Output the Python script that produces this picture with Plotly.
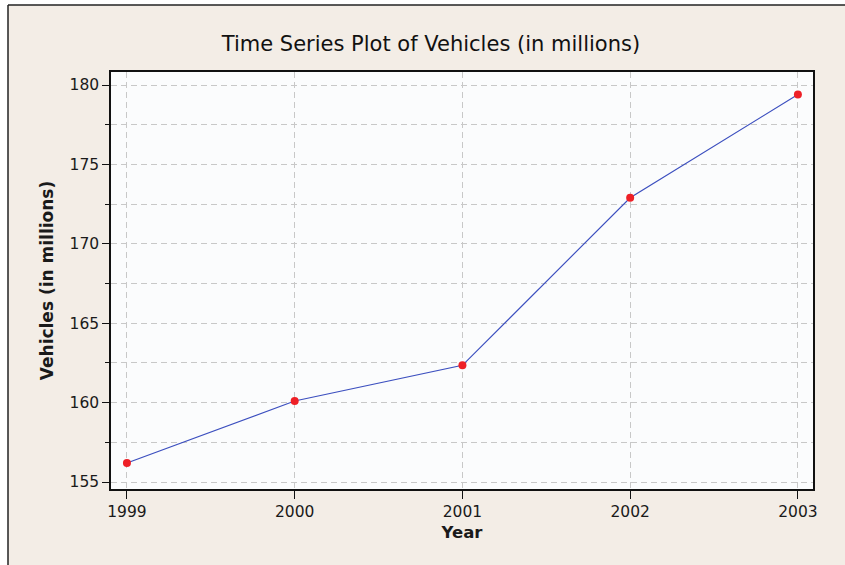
import plotly.graph_objects as go

years = [1999, 2000, 2001, 2002, 2003]
vehicles = [156.2, 160.1, 162.35, 172.9, 179.4]
x_ticks = [1999, 2000, 2001, 2002, 2003]
y_ticks = [155, 160, 165, 170, 175, 180]

FONT = "DejaVu Sans"
BG = "#f3ede6"
W, H = 845, 565
L, R, T, B = 111, 32, 72, 76
PW, PH = W - L - R, H - T - B

fig = go.Figure()
fig.add_trace(go.Scatter(
    x=years, y=vehicles, mode="lines+markers",
    line=dict(color="#3c4fbf", width=1.2),
    marker=dict(color="#ee2027", size=8),
    showlegend=False,
))

grid = dict(showgrid=True, gridcolor="#c8c8c8", gridwidth=1, griddash="6px,4px")

fig.update_layout(
    width=W, height=H,
    paper_bgcolor=BG, plot_bgcolor="#fbfcfd",
    margin=dict(l=L, r=R, t=T, b=B),
    font=dict(family=FONT, color="#1a1a1a", size=15.5),
    title=dict(text="Time Series Plot of Vehicles (in millions)", x=0.51, xanchor="center",
               y=1 - 44 / H, yanchor="middle", font=dict(size=21, family=FONT, color="#111")),
    xaxis=dict(range=[1998.905, 2003.09], tickvals=x_ticks, ticktext=[str(v) for v in x_ticks],
               ticks="outside", ticklen=8, tickcolor="#111", showline=True, linecolor="#111",
               linewidth=1.5, mirror=True, zeroline=False,
               title=dict(text="<b>Year</b>", standoff=6, font=dict(size=16.5, family=FONT)),
               **grid),
    yaxis=dict(range=[154.56, 180.82], tickvals=y_ticks, ticks="outside", ticklen=7,
               tickcolor="#111", showline=True, linecolor="#111", linewidth=1.5, mirror=True,
               zeroline=False,
               minor=dict(dtick=2.5, tick0=155, ticks="outside", ticklen=4, tickcolor="#111",
                          showgrid=True, gridcolor="#c8c8c8", griddash="6px,4px", gridwidth=1),
               title=dict(text="<b>Vehicles (in millions)</b>", standoff=12, font=dict(size=17, family=FONT)),
               **grid),
)

# figure-edge border lines (paper refs are plot-area based)
def px_x(p):
    return (p - L) / PW

def px_y(p):
    return 1 - (p - T) / PH

fig.add_shape(type="rect", xref="paper", yref="paper", layer="below",
              x0=px_x(0), x1=px_x(W), y0=px_y(0), y1=px_y(5), line=dict(width=0), fillcolor="white")
fig.add_shape(type="rect", xref="paper", yref="paper", layer="below",
              x0=px_x(0), x1=px_x(8), y0=px_y(0), y1=px_y(H), line=dict(width=0), fillcolor="white")
fig.add_shape(type="line", xref="paper", yref="paper",
              x0=px_x(8), x1=px_x(8), y0=px_y(5), y1=px_y(H),
              line=dict(color="#222", width=1.5))
fig.add_shape(type="line", xref="paper", yref="paper",
              x0=px_x(8), x1=px_x(W), y0=px_y(5), y1=px_y(5),
              line=dict(color="#222", width=1.5))

fig.write_html("out.html", config={"displayModeBar": False},
               post_script="document.body.style.margin='0';")
